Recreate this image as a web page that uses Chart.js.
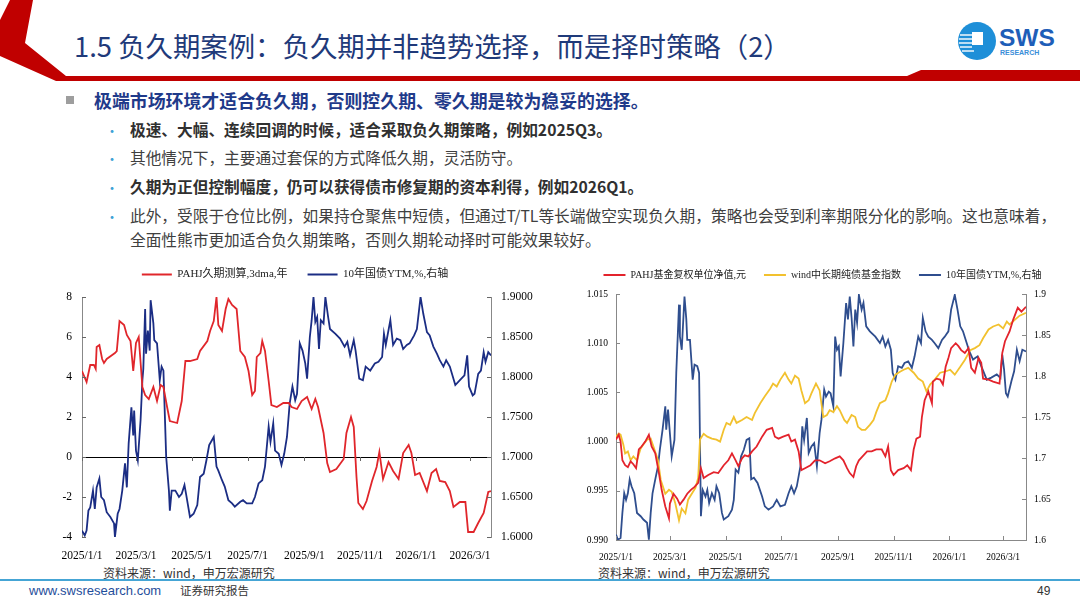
<!DOCTYPE html>
<html>
<head>
<meta charset="utf-8">
<script src="https://cdn.jsdelivr.net/npm/chart.js@4.4.1/dist/chart.umd.min.js"></script>
<style>
  body { margin: 0; width: 1080px; height: 608px; background: #fff; position: relative; overflow: hidden;
         font-family: "Noto Sans CJK SC", "Noto Sans", sans-serif; }
  .abs { position: absolute; white-space: nowrap; }
  .title { font-size: 27.4px; color: #1F3A7A; line-height: 34px; }
  .lead { font-size: 17.9px; font-weight: bold; color: #1F3A8A; line-height: 20px; }
  .sub { font-size: 15.7px; color: #404040; line-height: 20px; }
  .sub b { color: #303030; }
  .dot { font-size: 14px; color: #3FA2D6; line-height: 20px; }
  .src { font-size: 12px; color: #333; line-height: 16px; }
  canvas { position: absolute; }
</style>
</head>
<body>

<svg class="abs" style="left:0;top:0" width="1080" height="90">
  <polygon points="10,0 33,0 25,43 66,76 66,81 56,81 0,56 0,20" fill="#C00000"/>
  <polygon points="56,76 907,76 921,70 1080,70 1080,81 56,81" fill="#C00000"/>
  <circle cx="977" cy="41" r="19" fill="#1E8FD8"/>
  <g stroke="#fff" stroke-width="1.4">
    <line x1="960" y1="35" x2="972" y2="35"/>
    <line x1="959" y1="39" x2="972" y2="39"/>
    <line x1="959" y1="43" x2="972" y2="43"/>
    <line x1="960" y1="47" x2="972" y2="47"/>
    <line x1="962" y1="51" x2="974" y2="51"/>
  </g>
  <rect x="972" y="32" width="11" height="13" fill="#fff"/>
  <text x="999" y="46" font-family="Liberation Sans" font-weight="bold" font-size="24.5" fill="#1E5EB8">SWS</text>
  <text x="1000" y="54.5" font-family="Liberation Sans" font-weight="bold" font-size="7" fill="#3A8ED8">RESEARCH</text>
</svg>

<div class="abs title" style="left:74px;top:28px">1.5 负久期案例：负久期并非趋势选择，而是择时策略（2）</div>

<div class="abs" style="left:66px;top:96px;width:8px;height:8px;background:#9E9E9E"></div>
<div class="abs lead" style="left:94px;top:90px">极端市场环境才适合负久期，否则控久期、零久期是较为稳妥的选择。</div>

<div class="abs dot" style="left:105px;top:120px">•</div>
<div class="abs sub" style="left:130px;top:120px"><b>极速、大幅、连续回调的时候，适合采取负久期策略，例如2025Q3。</b></div>
<div class="abs dot" style="left:105px;top:148px">•</div>
<div class="abs sub" style="left:130px;top:148px">其他情况下，主要通过套保的方式降低久期，灵活防守。</div>
<div class="abs dot" style="left:105px;top:177px">•</div>
<div class="abs sub" style="left:130px;top:177px"><b>久期为正但控制幅度，仍可以获得债市修复期的资本利得，例如2026Q1。</b></div>
<div class="abs dot" style="left:105px;top:206px">•</div>
<div class="abs sub" style="left:130px;top:206px">此外，受限于仓位比例，如果持仓聚焦中短债，但通过T/TL等长端做空实现负久期，策略也会受到利率期限分化的影响。这也意味着，</div>
<div class="abs sub" style="left:130px;top:230px">全面性熊市更加适合负久期策略，否则久期轮动择时可能效果较好。</div>

<canvas id="leftChart" width="530" height="313" style="left:30px;top:249px"></canvas>
<canvas id="rightChart" width="505" height="310" style="left:570px;top:252px"></canvas>

<div class="abs src" style="left:103px;top:565px">资料来源：wind，申万宏源研究</div>
<div class="abs src" style="left:598px;top:565px">资料来源：wind，申万宏源研究</div>
<div class="abs" style="left:0;top:579px;width:1080px;height:2px;background:#45A5D5"></div>
<div class="abs" style="left:29px;top:583px;font-family:'Liberation Sans';font-size:13px;color:#1F4E9B;line-height:16px">www.swsresearch.com</div>
<div class="abs" style="left:180px;top:582px;font-size:11.5px;color:#333;line-height:16px">证券研究报告</div>
<div class="abs" style="left:1037px;top:583px;font-family:'Liberation Sans';font-size:12px;color:#333;line-height:16px">49</div>

<script>
// x axis: days since 2025/1/1
const tickDays = [0, 59, 120, 181, 243, 304, 365, 424];
const tickLabels = ['2025/1/1', '2025/3/1', '2025/5/1', '2025/7/1', '2025/9/1', '2025/11/1', '2026/1/1', '2026/3/1'];

// left chart: PAHJ duration estimate (years)
const durDays = [0,5,9,13,15,16,19,22,24,27,
  33,36,38,41,46,49,53,56,59,62,
  66,69,73,78,82,86,89,93,96,104,
  109,113,118,126,129,137,140,144,147,149,
  153,157,160,164,169,173,178,182,186,189,
  191,195,197,200,204,207,213,220,226,229,
  235,240,246,251,255,258,264,268,271,278,
  286,289,294,297,300,302,307,311,317,322,
  325,329,335,340,346,351,357,360,364,369,
  377,382,387,391,397,402,406,413,419,422,
  428,433,439,444,447];
const durValues = [4.3,3.75,4.6,4.6,4.4,5.5,5.6,4.9,4.7,4.9,
  5.1,5.2,5.3,6.8,6.6,6.1,5.8,4.3,5.7,6.0,
  3.5,3.1,2.9,3.5,2.8,3.6,3.5,2.5,1.8,1.7,
  2.8,4.8,4.8,4.9,5.3,5.8,6.3,6.8,8.0,6.6,
  6.3,7.4,7.9,7.6,7.4,5.3,5.0,4.3,3.1,3.3,
  5.0,5.2,5.8,5.3,3.8,2.6,2.5,2.7,2.7,2.5,
  2.4,2.8,3.0,2.4,2.9,2.5,1.2,-0.3,-0.75,-0.6,
  -0.1,1.2,2.0,1.5,-1.0,-2.3,-2.6,-2.2,-1.2,-0.5,
  0.25,-1.1,-0.25,-0.7,-1.1,0.2,0.6,0.2,-0.9,-0.8,
  -1.7,-0.8,-0.6,-1.2,-1.25,-1.7,-2.5,-2.25,-2.25,-3.75,
  -3.75,-3.3,-2.8,-1.75,-1.7];

// left chart: 10y CGB YTM (%), right axis
const ytmLDays = [0,3,5,7,9,12,14,16,19,21,
  24,27,31,35,36,39,41,44,47,49,
  51,54,56,57,59,61,64,66,67,69,
  70,72,74,75,78,79,82,85,87,89,
  92,95,96,98,102,106,109,112,114,118,
  122,126,129,133,136,139,142,144,147,149,
  153,156,160,164,167,173,176,180,186,189,
  193,197,200,204,206,209,211,215,218,221,
  224,227,230,233,235,238,241,244,246,249,
  251,253,255,257,259,261,264,266,269,271,
  277,282,287,290,293,297,299,303,307,310,
  315,320,324,328,330,332,337,340,344,348,
  351,355,358,363,366,370,373,377,380,384,
  388,391,395,398,402,408,413,418,421,423,
  427,429,433,436,439,441,444,447];
const ytmLValues = [1.608,1.602,1.608,1.633,1.637,1.658,1.635,1.662,1.673,1.65,
  1.646,1.631,1.625,1.617,1.6,1.629,1.635,1.658,1.692,1.662,
  1.717,1.762,1.727,1.758,1.708,1.696,1.746,1.796,1.81,1.885,
  1.829,1.858,1.833,1.896,1.867,1.846,1.842,1.796,1.813,1.808,
  1.7,1.658,1.633,1.658,1.658,1.65,1.654,1.665,1.652,1.625,
  1.629,1.64,1.675,1.679,1.696,1.715,1.721,1.725,1.688,1.683,
  1.671,1.663,1.646,1.642,1.638,1.644,1.646,1.642,1.642,1.65,
  1.667,1.671,1.688,1.738,1.719,1.742,1.708,1.704,1.69,1.704,
  1.725,1.767,1.788,1.771,1.779,1.842,1.833,1.817,1.798,1.85,
  1.871,1.9,1.869,1.875,1.835,1.871,1.867,1.9,1.875,1.86,
  1.854,1.848,1.838,1.844,1.827,1.846,1.833,1.798,1.796,1.813,
  1.808,1.817,1.819,1.825,1.854,1.84,1.871,1.84,1.848,1.846,
  1.835,1.84,1.842,1.852,1.86,1.9,1.879,1.856,1.852,1.838,
  1.829,1.821,1.813,1.821,1.813,1.79,1.796,1.802,1.827,1.788,
  1.777,1.779,1.804,1.808,1.831,1.819,1.831,1.827];

// right chart: PAHJ fund adjusted NAV
const navDays = [0,3,5,7,10,13,16,19,22,25,
  28,32,36,39,43,47,50,54,58,59,
  63,67,70,74,78,82,86,90,93,96,
  101,107,112,118,123,127,131,134,138,141,
  145,149,154,160,165,171,174,178,183,189,
  192,196,200,203,207,213,218,223,229,234,
  240,245,249,253,256,260,263,266,270,275,
  280,285,291,295,298,301,304,309,315,319,
  323,326,329,333,335,338,342,346,347,351,
  355,358,361,364,367,372,375,378,382,386,
  389,393,397,400,402,408,413,420,423,426,
  431,435,440,444,449];
const navValues = [1.0002,1.0007,1.0,0.9981,0.9976,0.9974,0.998,0.9977,0.9973,0.9992,
  0.9995,1.0,1.0007,0.9995,0.9988,0.9968,0.9951,0.9934,0.9922,0.9937,
  0.9947,0.9942,0.9936,0.9941,0.9947,0.9951,0.9954,0.9958,0.9973,0.9963,
  0.9966,0.9969,0.9968,0.9976,0.9981,0.9988,0.9981,0.9975,0.9983,0.9986,
  0.9985,0.999,0.9995,1.0005,1.0012,1.0014,1.0005,1.0003,1.0005,1.0007,
  1.0,1.0002,0.999,0.9971,0.9973,0.9976,0.9981,0.9981,0.9978,0.998,
  0.9983,0.9985,0.9981,0.9973,0.9968,0.9964,0.9975,0.9981,0.9985,0.999,
  0.999,0.9992,0.9992,0.9985,0.9995,0.9971,0.9966,0.9971,0.9973,0.9976,
  0.9971,0.9992,1.0003,1.0005,1.0025,1.0042,1.0051,1.0039,1.0061,1.0064,
  1.0063,1.0058,1.0076,1.0085,1.0095,1.01,1.0097,1.0093,1.009,1.0095,
  1.0075,1.007,1.0085,1.008,1.0064,1.0063,1.0061,1.0059,1.009,1.0102,
  1.0112,1.0124,1.0136,1.0132,1.0137];

// right chart: wind medium/long-term pure bond fund index
const idxDays = [0,3,5,8,10,13,16,19,23,27,
  30,34,38,41,46,49,54,58,61,65,
  69,72,76,79,83,87,90,92,96,100,
  105,110,114,118,121,125,129,132,138,143,
  149,152,158,163,169,172,176,180,185,189,
  192,196,200,203,207,211,214,219,223,227,
  231,234,238,242,245,250,253,258,262,265,
  269,273,278,282,285,289,295,298,302,306,
  311,315,320,326,331,336,340,344,349,355,
  360,366,371,377,382,388,393,398,402,408,
  413,419,424,428,431,437,442,449];
const idxValues = [1.0005,1.0008,1.0007,0.9997,0.9988,0.999,0.9981,0.9985,0.9981,0.9993,
  0.9997,1.0002,1.0003,0.9995,0.9981,0.9961,0.9947,0.9951,0.9949,0.9937,
  0.992,0.9932,0.9927,0.9941,0.9947,0.9953,0.9963,1.0002,1.0008,1.0005,
  1.0003,1.0002,1.0,1.0012,1.0019,1.0017,1.0025,1.0019,1.0022,1.0025,
  1.0022,1.0029,1.0039,1.0046,1.0054,1.0059,1.0056,1.0063,1.007,1.0063,
  1.0059,1.0067,1.0064,1.0052,1.0039,1.0042,1.0049,1.0059,1.0052,1.0025,
  1.0027,1.0032,1.003,1.0036,1.0032,1.0022,1.0019,1.0027,1.0025,1.0015,
  1.0012,1.0012,1.0017,1.0022,1.003,1.0039,1.0042,1.0049,1.0061,1.0068,
  1.0071,1.0073,1.0075,1.007,1.0064,1.0061,1.0051,1.0058,1.0063,1.007,
  1.0071,1.0073,1.0068,1.0076,1.0083,1.0093,1.0095,1.0098,1.0105,1.0114,
  1.0117,1.0119,1.0115,1.0122,1.0119,1.0124,1.0128,1.0131];

// right chart: 10y CGB YTM (%), right axis
const ytmRDays = [0,2,5,7,9,11,13,15,17,20,
  23,27,30,34,36,38,40,43,46,48,
  51,54,55,57,59,61,64,66,69,70,
  72,75,77,78,81,84,86,89,91,93,
  95,98,100,102,105,108,110,113,116,118,
  123,127,129,131,134,137,140,143,146,148,
  151,155,160,163,167,172,176,180,185,189,
  192,195,198,202,204,206,209,211,214,217,
  220,223,225,228,230,233,235,238,240,242,
  244,246,249,252,254,256,258,260,262,264,
  266,269,271,274,278,284,289,292,295,298,
  301,303,306,309,313,316,320,324,327,331,
  334,336,339,342,346,349,353,357,360,364,
  367,371,374,377,380,383,387,391,396,400,
  406,411,417,421,423,425,427,429,433,436,
  439,442,445,449];
const ytmRValues = [1.6065,1.6004,1.6024,1.633,1.657,1.649,1.657,1.674,1.6655,1.657,
  1.633,1.629,1.625,1.621,1.6004,1.633,1.657,1.674,1.69,1.71,
  1.7346,1.763,1.7346,1.759,1.7305,1.702,1.722,1.8037,1.887,1.848,
  1.832,1.897,1.869,1.844,1.844,1.7955,1.8138,1.812,1.8037,1.629,
  1.661,1.653,1.661,1.645,1.657,1.649,1.6655,1.657,1.633,1.625,
  1.629,1.637,1.649,1.686,1.682,1.702,1.71,1.722,1.724,1.674,
  1.676,1.6695,1.653,1.641,1.637,1.641,1.649,1.641,1.643,1.657,
  1.6655,1.657,1.6655,1.69,1.7386,1.722,1.7488,1.706,1.714,1.718,
  1.69,1.7305,1.7467,1.7833,1.775,1.781,1.779,1.763,1.848,1.832,
  1.836,1.7996,1.8402,1.889,1.869,1.897,1.871,1.836,1.881,1.865,
  1.899,1.881,1.889,1.8606,1.8545,1.848,1.8402,1.848,1.836,1.844,
  1.832,1.8037,1.7955,1.812,1.81,1.8159,1.8179,1.81,1.824,1.848,
  1.84,1.871,1.8545,1.848,1.844,1.84,1.834,1.844,1.848,1.8545,
  1.881,1.899,1.881,1.8606,1.8545,1.844,1.83,1.82,1.824,1.812,
  1.7955,1.798,1.802,1.7976,1.826,1.8077,1.779,1.775,1.7935,1.8057,
  1.832,1.818,1.832,1.83];

// axis ticks
const durTicks = [-4, -2, 0, 2, 4, 6, 8];
const ytmTicks = [1.6, 1.65, 1.7, 1.75, 1.8, 1.85, 1.9];
const navTicks = [0.99, 0.995, 1.0, 1.005, 1.01, 1.015];

const pts = (xs, ys) => xs.map((x, i) => ({ x: x, y: ys[i] }));
const setTicks = list => scale => { scale.ticks = list.map(v => ({ value: v })); };

Chart.defaults.font.family = "'Liberation Serif', 'Noto Sans CJK SC', serif";
Chart.defaults.color = '#000';
Chart.defaults.animation = false;
Chart.defaults.responsive = false;
Chart.defaults.elements.point.radius = 0;
Chart.defaults.elements.line.borderWidth = 1.8;
Chart.defaults.elements.line.tension = 0;

// small inward tick marks, like the excel original
const axisMarks = {
  id: 'axisMarks',
  afterDraw(chart, args, opts) {
    const { ctx, chartArea: a, scales } = chart;
    ctx.save();
    ctx.strokeStyle = opts.color || '#888';
    ctx.lineWidth = 1;
    ctx.beginPath();
    scales.y.ticks.forEach(t => {
      const y = Math.round(scales.y.getPixelForValue(t.value)) + 0.5;
      ctx.moveTo(a.left, y); ctx.lineTo(a.left + 4, y);
    });
    scales.y1.ticks.forEach(t => {
      const y = Math.round(scales.y1.getPixelForValue(t.value)) + 0.5;
      ctx.moveTo(a.right, y); ctx.lineTo(a.right - 4, y);
    });
    const base = opts.zeroLine ? scales.y.getPixelForValue(0) : a.bottom;
    const dir = opts.zeroLine ? 4 : -4;
    scales.x.ticks.forEach(t => {
      const x = Math.round(scales.x.getPixelForValue(t.value)) + 0.5;
      ctx.moveTo(x, base); ctx.lineTo(x, base + dir);
    });
    ctx.stroke();
    ctx.restore();
  }
};

// empty layout box between legend and plot, to push the plot down a little
const legendGap = size => ({
  id: 'legendGap',
  beforeInit(chart) {
    Chart.layouts.addBox(chart, {
      position: 'top', weight: 100, fullSize: true, options: {},
      isHorizontal() { return true; },
      update(maxWidth) { this.width = maxWidth; this.height = size; },
      draw() {}
    });
  }
});

function lineLegend(lineWidth, pad, size) {
  return {
    labels: {
      usePointStyle: true, pointStyleWidth: lineWidth, padding: pad, color: '#222', font: { size: size },
      generateLabels: chart => chart.data.datasets.map((d, i) => ({
        text: d.label, strokeStyle: d.borderColor, fillStyle: d.borderColor, fontColor: '#222',
        lineWidth: 2, pointStyle: 'line', datasetIndex: i, hidden: false
      }))
    }
  };
}

function xScale(max, fontSize, height, showBorder) {
  return {
    type: 'linear', min: 0, max: max,
    afterBuildTicks: setTicks(tickDays),
    grid: { display: false },
    border: { display: showBorder, color: '#888' },
    ticks: { autoSkip: false, maxRotation: 0, padding: 4, font: { size: fontSize },
             callback: v => tickLabels[tickDays.indexOf(v)] },
    afterFit: s => { s.height = height; }
  };
}

// left chart
new Chart(document.getElementById('leftChart'), {
  type: 'line',
  data: {
    datasets: [
      { label: 'PAHJ久期测算,3dma,年', data: pts(durDays, durValues), borderColor: '#E0262B', yAxisID: 'y' },
      { label: '10年国债YTM,%,右轴', data: pts(ytmLDays, ytmLValues), borderColor: '#1B2D84', yAxisID: 'y1' }
    ]
  },
  options: {
    plugins: {
      legend: lineLegend(30, 20, 11),
      tooltip: { enabled: false },
      axisMarks: { zeroLine: true, color: '#666' }
    },
    scales: {
      x: xScale(447, 11.5, 25, false),
      y: {
        position: 'left', min: -4, max: 8,
        afterBuildTicks: setTicks(durTicks),
        grid: { drawTicks: false, color: c => (c.tick && c.tick.value === 0 ? '#000' : 'rgba(0,0,0,0)') },
        border: { color: '#888' },
        ticks: { padding: 10, font: { size: 11.5 } },
        afterFit: s => { s.width = 52; }
      },
      y1: {
        position: 'right', min: 1.6, max: 1.9,
        afterBuildTicks: setTicks(ytmTicks),
        grid: { display: false, drawTicks: false },
        border: { color: '#888' },
        ticks: { padding: 10, font: { size: 11.5 }, callback: v => v.toFixed(4) },
        afterFit: s => { s.width = 69; }
      }
    }
  },
  plugins: [axisMarks, legendGap(7)]
});

// right chart
new Chart(document.getElementById('rightChart'), {
  type: 'line',
  data: {
    datasets: [
      { label: 'PAHJ基金复权单位净值,元', data: pts(navDays, navValues), borderColor: '#E3232C', yAxisID: 'y' },
      { label: 'wind中长期纯债基金指数', data: pts(idxDays, idxValues), borderColor: '#F2C12E', yAxisID: 'y' },
      { label: '10年国债YTM,%,右轴', data: pts(ytmRDays, ytmRValues), borderColor: '#2F4E8E', yAxisID: 'y1' }
    ]
  },
  options: {
    plugins: {
      legend: lineLegend(22, 18, 10),
      tooltip: { enabled: false },
      axisMarks: { zeroLine: false, color: '#888' }
    },
    scales: {
      x: xScale(449, 9.5, 22, true),
      y: {
        position: 'left', min: 0.99, max: 1.015,
        afterBuildTicks: setTicks(navTicks),
        grid: { display: false, drawTicks: false },
        border: { color: '#888' },
        ticks: { padding: 8, font: { size: 9.5 }, callback: v => v.toFixed(3) },
        afterFit: s => { s.width = 46; }
      },
      y1: {
        position: 'right', min: 1.6, max: 1.9,
        afterBuildTicks: setTicks(ytmTicks),
        grid: { display: false, drawTicks: false },
        border: { color: '#888' },
        ticks: { padding: 8, font: { size: 9.5 }, callback: v => String(Number(v.toFixed(2))) },
        afterFit: s => { s.width = 49; }
      }
    }
  },
  plugins: [axisMarks, legendGap(4)]
});
</script>
</body>
</html>
